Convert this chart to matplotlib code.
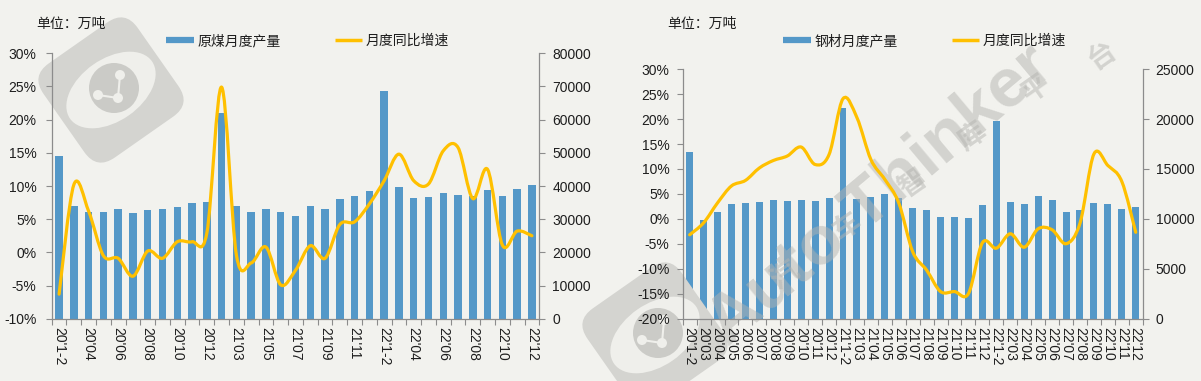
import matplotlib.pyplot as plt
import matplotlib.transforms as mtransforms
import numpy as np
from matplotlib.lines import Line2D
from matplotlib.patches import Circle, Ellipse, FancyBboxPatch, PathPatch
from matplotlib.path import Path

months = [
    "20'1-2", "20'03", "20'04", "20'05", "20'06", "20'07", "20'08", "20'09", "20'10", "20'11", "20'12",
    "21'1-2", "21'03", "21'04", "21'05", "21'06", "21'07", "21'08", "21'09", "21'10", "21'11", "21'12",
    "22'1-2", "22'03", "22'04", "22'05", "22'06", "22'07", "22'08", "22'09", "22'10", "22'11", "22'12",
]

# 原煤 (万吨) / 同比 (%)
coal_output = [
    49100, 34100, 32200, 32200, 33100, 31900, 32800, 33100, 33700, 34900, 35200,
    62000, 34100, 32200, 33100, 32200, 31000, 34100, 33100, 36100, 37000, 38500,
    68700, 39800, 36400, 36700, 38000, 37300, 37000, 38900, 37000, 39200, 40400,
]
coal_yoy = [
    -6.3, 10.2, 6.2, -0.5, -0.9, -3.6, 0.2, -0.9, 1.6, 1.6, 2.9,
    24.9, -0.4, -1.6, 0.8, -4.9, -2.7, 1.0, -0.9, 4.2, 4.6, 7.3,
    10.8, 14.8, 10.8, 10.3, 15.3, 15.8, 8.1, 12.5, 1.1, 3.2, 2.5,
]

# 钢材 (万吨) / 同比 (%)
steel_output = [
    16750, 9900, 10700, 11500, 11600, 11700, 11900, 11800, 11900, 11800, 12100,
    21100, 12000, 12200, 12500, 12100, 11100, 10900, 10200, 10200, 10100, 11400,
    19800, 11650, 11500, 12250, 11900, 10700, 10900, 11600, 11500, 11000, 11150,
]
steel_yoy = [
    -3.2, -0.8, 3.2, 6.6, 7.7, 10.2, 11.7, 12.6, 14.4, 10.9, 12.9,
    24.1, 20.3, 11.9, 7.9, 3.2, -6.6, -10.3, -14.6, -14.6, -15.0, -4.8,
    -5.9, -3.0, -5.7, -2.0, -2.2, -5.0, -0.9, 13.0, 10.7, 7.5, -2.7,
]

BG = "#f2f2ee"
BAR = "#5498c8"
LINE = "#ffc000"
AXIS = "#8c8c8c"
TEXT = "#1e1e1e"
W, H = 1201, 381

plt.rcParams["font.family"] = ["Liberation Sans", "Noto Sans CJK SC"]
plt.rcParams["font.size"] = 10
plt.rcParams["text.color"] = TEXT


def smooth_path(xs, ys):
    # Catmull-Rom style bezier, like Excel's smoothed line
    pts = np.column_stack([xs, ys]).astype(float)
    ext = np.vstack([pts[:1], pts, pts[-1:]])
    verts = [pts[0]]
    codes = [Path.MOVETO]
    for i in range(len(pts) - 1):
        p0, p1, p2, p3 = ext[i], ext[i + 1], ext[i + 2], ext[i + 3]
        verts += [p1 + (p2 - p0) / 6, p2 - (p3 - p1) / 6, p2]
        codes += [Path.CURVE4] * 3
    return Path(verts, codes)


def inch(x, y):
    return x / 100, (H - y) / 100


def draw_logo(fig, ax, cx, cy):
    ci = inch(cx, cy)
    rot = mtransforms.Affine2D().rotate_deg_around(ci[0], ci[1], 35) + fig.dpi_scale_trans
    s = 1.15
    kw = dict(ec="none", clip_on=False, zorder=4)
    ax.add_patch(FancyBboxPatch((ci[0] - s / 2, ci[1] - s / 2), s, s,
                                boxstyle="round,pad=0,rounding_size=0.22",
                                fc="#d4d4d0", transform=rot, **kw))
    ax.add_patch(Ellipse(ci, 1.0, 0.62, fc="#efefeb", transform=rot, **kw))
    ax.add_patch(Circle((ci[0] + 0.03, ci[1] + 0.02), 0.25, fc="#cbcbc7",
                        transform=fig.dpi_scale_trans, **kw))
    dots = [(-0.13, -0.05), (0.09, 0.15), (0.07, -0.08)]
    for a, b in [(0, 2), (1, 2)]:
        ax.add_line(Line2D([ci[0] + dots[a][0], ci[0] + dots[b][0]],
                           [ci[1] + dots[a][1], ci[1] + dots[b][1]],
                           color="#efefeb", lw=1.5, transform=fig.dpi_scale_trans,
                           clip_on=False, zorder=4))
    for dx, dy in dots:
        ax.add_patch(Circle((ci[0] + dx, ci[1] + dy), 0.05, fc="#efefeb",
                            transform=fig.dpi_scale_trans, **kw))


def draw_panel(fig, box, output, yoy, pct_lim, qty_lim, qty_step, step_labels,
               bar_name, unit_x, legend_x, left_pad):
    x0, y0, x1, y1 = box
    rect = [x0 / W, 1 - y1 / H, (x1 - x0) / W, (y1 - y0) / H]
    ax = fig.add_axes(rect)
    ax2 = ax.twinx()
    ax.set_zorder(ax2.get_zorder() + 1)
    ax.patch.set_visible(False)
    ax2.patch.set_visible(False)

    n = len(output)
    x = np.arange(n)
    ax2.bar(x, output, width=0.5, color=BAR, zorder=2)
    ax.add_patch(PathPatch(smooth_path(x, yoy), fill=False, edgecolor=LINE,
                           lw=2.3, capstyle="round", joinstyle="round", zorder=3))

    ax.set_xlim(-0.5, n - 0.5)
    ax.set_ylim(*pct_lim)
    ax2.set_ylim(*qty_lim)

    ax.set_yticks(np.arange(pct_lim[0], pct_lim[1] + 1, 5))
    ax.set_yticklabels([f"{v:.0f}%" for v in ax.get_yticks()])
    ax2.set_yticks(np.arange(qty_lim[0], qty_lim[1] + 1, qty_step))
    ax2.set_yticklabels([f"{v:.0f}" for v in ax2.get_yticks()])

    idx = list(range(0, n, step_labels))
    ax.set_xticks(idx)
    ax.set_xticklabels([months[i] for i in idx], rotation=-90, ha="center", va="top")
    ax.set_xticks(np.arange(-0.5, n, 1), minor=True)
    ax.tick_params(axis="x", which="major", length=0, pad=6, labelsize=10, labelcolor=TEXT)
    ax.tick_params(axis="x", which="minor", length=4, width=0.8, color=AXIS, direction="out")
    ax.tick_params(axis="y", length=4, width=0.8, color=AXIS, pad=left_pad, labelsize=10,
                   labelcolor=TEXT)
    ax2.tick_params(axis="y", length=4, width=0.8, color=AXIS, pad=5.3, labelsize=10,
                    labelcolor=TEXT)

    for sp in ["top", "right"]:
        ax.spines[sp].set_visible(False)
    for sp in ["top", "left", "bottom"]:
        ax2.spines[sp].set_visible(False)
    for sp in [ax.spines["left"], ax.spines["bottom"], ax2.spines["right"]]:
        sp.set_color(AXIS)
        sp.set_linewidth(0.9)

    fig.text(unit_x / W, 1 - 24 / H, "单位：万吨", ha="left", va="center", fontsize=10)
    handles = [
        Line2D([], [], color=BAR, lw=4.5, solid_capstyle="butt"),
        Line2D([], [], color=LINE, lw=2.5, solid_capstyle="butt"),
    ]
    fig.legend(handles, [bar_name, "月度同比增速"], loc="center left",
               bbox_to_anchor=(legend_x / W, 1 - 41 / H), ncol=2, frameon=False,
               fontsize=10, handlelength=2.0, handletextpad=0.25, columnspacing=3.9,
               borderpad=0, borderaxespad=0)
    return ax, ax2


fig = plt.figure(figsize=(W / 100, H / 100), dpi=100, facecolor=BG)

axL, axL2 = draw_panel(fig, (51.7, 53.3, 539.3, 318.7), coal_output, coal_yoy,
                       (-10, 30), (0, 80000), 10000, 2, "原煤月度产量", 36, 166, 7)
axR, axR2 = draw_panel(fig, (682.7, 69.3, 1142.7, 318.5), steel_output, steel_yoy,
                       (-20, 30), (0, 25000), 5000, 1, "钢材月度产量", 667, 783, 5.5)

# watermark
draw_logo(fig, axL2, 111, 90)
draw_logo(fig, axR2, 655, 335)
wm = dict(transform=fig.dpi_scale_trans, color="#b4b4b0", alpha=0.5, ha="center",
          va="center", rotation_mode="anchor", clip_on=False, zorder=4)
axR2.text(*inch(880, 195), "Auto Thinker", rotation=40, fontsize=50, fontweight="bold", **wm)
wm_chars = ["汽", "车", "智", "库", "平", "台"]
wm_x = [785, 848, 913, 973, 1037, 1103]
wm_y = [277, 228, 185, 138, 90, 57]
for ch, cx, cy in zip(wm_chars, wm_x, wm_y):
    axR2.text(*inch(cx, cy), ch, rotation=35, fontsize=20, fontweight="bold", **wm)

fig.savefig("out.png", dpi=100, facecolor=BG)
